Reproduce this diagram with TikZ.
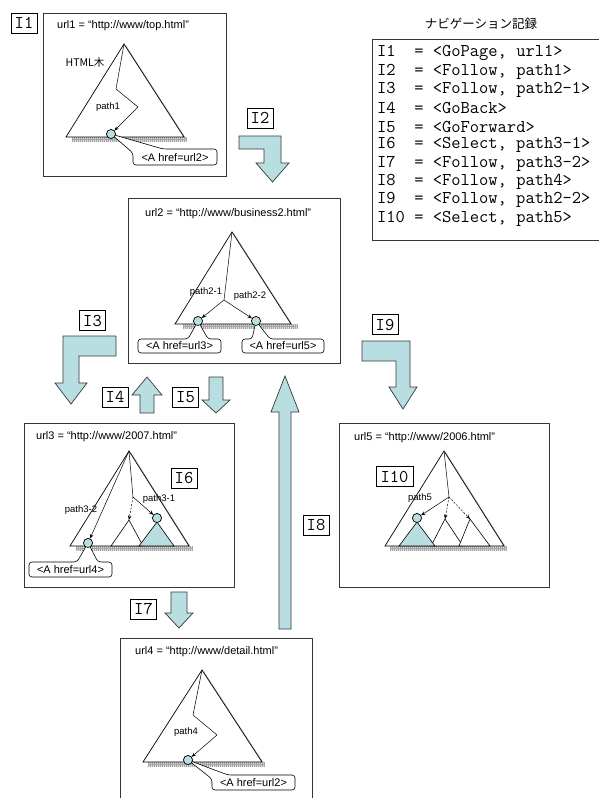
\documentclass[tikz,border=0pt]{standalone}
\usepackage{fontspec}
\setmainfont{Liberation Sans}
\newfontfamily\jpf{Noto Sans CJK JP}
\usetikzlibrary{arrows.meta}
\definecolor{cyanfill}{RGB}{185,222,225}
\definecolor{bord}{RGB}{55,55,55}
\tikzset{
 frame/.style={draw=bord, line width=0.8pt, fill=white},
 ilabel/.style={draw=black, line width=0.6pt, fill=white, font=\ttfamily\fontsize{18}{18}\selectfont, inner sep=0pt, minimum width=26pt, minimum height=20pt},
 urltext/.style={font=\fontsize{11}{12}\selectfont, anchor=west, inner sep=0pt},
 pathtext/.style={font=\fontsize{9.5}{10}\selectfont, inner sep=0pt},
 tree/.style={draw=black, line width=0.7pt, fill=white},
 treeshadow/.style={draw=gray!55, line width=1pt},
 subtree/.style={draw=black, line width=0.6pt, fill=white},
 filledtree/.style={draw=black, line width=0.6pt, fill=cyanfill},
 leaf/.style={circle, draw=black, line width=0.6pt, fill=cyanfill, minimum size=9pt, inner sep=0pt},
 trail/.style={draw=black, line width=0.5pt},
 trailarr/.style={trail, -{Stealth[length=4.5pt,width=3.5pt]}},
 dasharr/.style={trailarr, dash pattern=on 2pt off 1.5pt},
 callout/.style={draw=black, line width=0.6pt, fill=white, rounded corners=3pt},
 calltext/.style={font=\fontsize{11}{12}\selectfont, inner sep=0pt},
 bigarrow/.style={draw=bord, line width=0.7pt, fill=cyanfill, line join=miter},
 navline/.style={font=\ttfamily\fontsize{18}{18}\selectfont, anchor=west, inner sep=0pt},
}
\newcommand\hatchband[3]{%
  \fill[gray!28] (#1,#3) rectangle (#2,#3+5);
  \pgfmathtruncatemacro\hn{(#2-#1)/2}
  \foreach \k in {0,...,\hn} \draw[gray!70, line width=0.35pt] (#1+2*\k,#3) -- (#1+2*\k,#3+5);
  \draw[gray!70, line width=0.35pt] (#1,#3+2.5) -- (#2,#3+2.5);
}
\begin{document}
\begin{tikzpicture}[x=1pt,y=-1pt]
\useasboundingbox (0,0) rectangle (599,798);
\clip (0,0) rectangle (599,798);

% ---------------- Box 1 ----------------
\draw[frame] (43,13) rectangle (226,176);
\node[ilabel] (i1) at (24,23) {I1};
\node[urltext] (u1) at (57,26) {url1 = “http://www/top.html”};
\coordinate (t1a) at (124,44); \coordinate (t1l) at (66,137); \coordinate (t1r) at (184,137);
\hatchband{72}{187}{137}
\draw[treeshadow] ([xshift=1.5pt,yshift=-1.5pt]t1a) -- ([xshift=1.5pt,yshift=-1.5pt]t1r);
\draw[tree] (t1a) -- (t1l) -- (t1r) -- cycle;
\node[font=\jpf\fontsize{10.5}{12}\selectfont, inner sep=0pt] (h1) at (85,63) {HTML木};
\coordinate (p1a) at (116,89); \coordinate (p1b) at (138,107);
\node[leaf] (c1) at (111,134) {};
\draw[trail] (t1a) -- (p1a) -- (p1b);
\draw[trailarr] (p1b) -- (c1);
\node[pathtext] (l1) at (108,107) {path1};
\coordinate (k1a) at (133,153); \coordinate (k1b) at (163,149);
\draw[callout] (c1.center) -- (k1a) -- (133,165) -- (217,165) -- (217,149) -- (k1b) -- cycle;
\node[leaf] at (c1) {};
\node[calltext] (a1) at (175,157.5) {<A href=url2>};

% ---------------- Navigation record ----------------
\node[font=\jpf\fontsize{12.5}{14}\selectfont, inner sep=0pt] (navt) at (481,24) {ナビゲーション記録};
\draw[frame] (372,39) rectangle (605,240);
\node[navline] (n1) at (377,53.0) {I1~~=~<GoPage,~url1>};
\node[navline] (n2) at (377,71.4) {I2~~=~<Follow,~path1>};
\node[navline] (n3) at (377,89.8) {I3~~=~<Follow,~path2-1>};
\node[navline] (n4) at (377,108.2) {I4~~=~<GoBack>};
\node[navline] (n5) at (377,126.6) {I5~~=~<GoForward>};
\node[navline] (n6) at (377,145.0) {I6~~=~<Select,~path3-1>};
\node[navline] (n7) at (377,163.4) {I7~~=~<Follow,~path3-2>};
\node[navline] (n8) at (377,181.8) {I8~~=~<Follow,~path4>};
\node[navline] (n9) at (377,200.2) {I9~~=~<Follow,~path2-2>};
\node[navline] (n10) at (377,218.6) {I10~=~<Select,~path5>};

% ---------------- I2 arrow ----------------
\node[ilabel] (i2) at (260,118) {I2};
\draw[bigarrow] (239,136) -- (281,136) -- (281,163) -- (289,163) -- (272.5,182) -- (256,163) -- (264,163) -- (264,149) -- (239,149) -- cycle;

% ---------------- Box 2 ----------------
\draw[frame] (128,198) rectangle (340,363);
\node[urltext] (u2) at (145,214) {url2 = “http://www/business2.html”};
\coordinate (t2a) at (232,232); \coordinate (t2l) at (175,324); \coordinate (t2r) at (291,324);
\hatchband{183}{298}{324}
\draw[treeshadow] ([xshift=1.5pt,yshift=-1.5pt]t2a) -- ([xshift=1.5pt,yshift=-1.5pt]t2r);
\draw[tree] (t2a) -- (t2l) -- (t2r) -- cycle;
\coordinate (m2) at (224,300);
\node[leaf] (c2a) at (198,321) {};
\node[leaf] (c2b) at (256,321) {};
\draw[trail] (t2a) -- (m2);
\draw[trailarr] (m2) -- (c2a);
\draw[trailarr] (m2) -- (c2b);
\node[pathtext] (l2a) at (206,292) {path2-1};
\node[pathtext] (l2b) at (250,296) {path2-2};
\coordinate (k2a) at (188,339); \coordinate (k2b) at (208,339);
\draw[callout] (c2a.center) -- (k2b) -- (221,339) -- (221,353) -- (138,353) -- (138,339) -- (k2a) -- cycle;
\node[leaf] at (c2a) {};
\node[calltext] (a2a) at (179.5,346) {<A href=url3>};
\coordinate (k2c) at (252,339); \coordinate (k2d) at (270,339);
\draw[callout] (c2b.center) -- (k2d) -- (324,339) -- (324,353) -- (242,353) -- (242,339) -- (k2c) -- cycle;
\node[leaf] at (c2b) {};
\node[calltext] (a2b) at (283,346) {<A href=url5>};

% ---------------- I3, I4, I5, I9 arrows ----------------
\node[ilabel] (i3) at (92.5,320.5) {I3};
\draw[bigarrow] (116,336) -- (116,356) -- (79,356) -- (79,383) -- (87,383) -- (71,404) -- (55,383) -- (63,383) -- (63,336) -- cycle;
\node[ilabel] (i4) at (115,397) {I4};
\draw[bigarrow] (140,413) -- (154,413) -- (154,395) -- (162,395) -- (147,377) -- (132,395) -- (140,395) -- cycle;
\node[ilabel] (i5) at (185.5,397) {I5};
\draw[bigarrow] (209,377) -- (223,377) -- (223,400) -- (230,400) -- (216,413) -- (202,400) -- (209,400) -- cycle;
\node[ilabel] (i9) at (385,324.5) {I9};
\draw[bigarrow] (362,341) -- (410,341) -- (410,387) -- (417,387) -- (403,409) -- (389,387) -- (396,387) -- (396,361) -- (362,361) -- cycle;

% ---------------- Box 3 ----------------
\draw[frame] (24,423) rectangle (234,587);
\node[urltext] (u3) at (36,437) {url3 = “http://www/2007.html”};
\coordinate (t3a) at (129,451); \coordinate (t3l) at (70,546); \coordinate (t3r) at (189,546);
\hatchband{76}{193}{546}
\draw[treeshadow] ([xshift=1.5pt,yshift=-1.5pt]t3a) -- ([xshift=1.5pt,yshift=-1.5pt]t3r);
\draw[tree] (t3a) -- (t3l) -- (t3r) -- cycle;
\coordinate (s3a) at (129,520);
\draw[subtree] (s3a) -- (111,546) -- (143,546) -- cycle;
\node[leaf] (c3b) at (157,518) {};
\draw[filledtree] (157,522) -- (139,546) -- (174,546) -- cycle;
\node[leaf] at (c3b) {};
\node[leaf] (c3a) at (88,543) {};
\coordinate (m3) at (133,497);
\draw[trailarr] (t3a) -- (c3a);
\draw[trail] (t3a) -- (m3);
\draw[dasharr] (m3) -- (s3a);
\draw[trailarr] (m3) -- (c3b);
\node[pathtext] (l3a) at (159,499) {path3-1};
\node[pathtext] (l3b) at (81,510) {path3-2};
\node[ilabel] (i6) at (184,478) {I6};
\coordinate (k3a) at (77,562); \coordinate (k3b) at (98,562);
\draw[callout] (c3a.center) -- (k3b) -- (112,562) -- (112,577) -- (29,577) -- (29,562) -- (k3a) -- cycle;
\node[leaf] at (c3a) {};
\node[calltext] (a3) at (70.5,569.5) {<A href=url4>};

% ---------------- I8 arrow ----------------
\draw[bigarrow] (279,629) -- (291,629) -- (291,412) -- (299,412) -- (285,376) -- (271,412) -- (279,412) -- cycle;
\node[ilabel] (i8) at (316,525) {I8};

% ---------------- Box 5 ----------------
\draw[frame] (339,423) rectangle (549,587);
\node[urltext] (u5) at (354,438) {url5 = “http://www/2006.html”};
\coordinate (t5a) at (444,451); \coordinate (t5l) at (385,546); \coordinate (t5r) at (504,546);
\hatchband{390}{507}{546}
\draw[treeshadow] ([xshift=1.5pt,yshift=-1.5pt]t5a) -- ([xshift=1.5pt,yshift=-1.5pt]t5r);
\draw[tree] (t5a) -- (t5l) -- (t5r) -- cycle;
\coordinate (s5b) at (445,519); \coordinate (s5c) at (470,519);
\draw[subtree] (s5b) -- (431,546) -- (463,546) -- cycle;
\draw[subtree] (s5c) -- (459,546) -- (490,546) -- cycle;
\node[leaf] (c5) at (417,518) {};
\draw[filledtree] (417,522) -- (399,546) -- (435,546) -- cycle;
\node[leaf] at (c5) {};
\coordinate (m5) at (449,497);
\draw[trail] (t5a) -- (m5);
\draw[trailarr] (m5) -- (c5);
\draw[dasharr] (m5) -- (s5b);
\draw[dasharr] (m5) -- (s5c);
\node[pathtext] (l5) at (420,498) {path5};
\node[ilabel, minimum width=37pt] (i10) at (394.5,476.5) {I10};

% ---------------- I7 arrow ----------------
\node[ilabel] (i7) at (143.5,609) {I7};
\draw[bigarrow] (171,592) -- (187,592) -- (187,613) -- (193,613) -- (179,628) -- (165,613) -- (171,613) -- cycle;

% ---------------- Box 4 ----------------
\draw[frame] (120,638) rectangle (312,810);
\node[urltext] (u4) at (135,652) {url4 = “http://www/detail.html”};
\coordinate (t4a) at (202,670); \coordinate (t4l) at (143,762); \coordinate (t4r) at (262,762);
\hatchband{148}{265}{762}
\draw[treeshadow] ([xshift=1.5pt,yshift=-1.5pt]t4a) -- ([xshift=1.5pt,yshift=-1.5pt]t4r);
\draw[tree] (t4a) -- (t4l) -- (t4r) -- cycle;
\coordinate (p4a) at (193,715); \coordinate (p4b) at (217,735);
\node[leaf] (c4) at (188,760) {};
\draw[trail] (t4a) -- (p4a) -- (p4b);
\draw[trailarr] (p4b) -- (c4);
\node[pathtext] (l4) at (186,732) {path4};
\coordinate (k4a) at (212,779); \coordinate (k4b) at (228,775);
\draw[callout] (c4.center) -- (k4a) -- (212,790) -- (295,790) -- (295,775) -- (k4b) -- cycle;
\node[leaf] at (c4) {};
\node[calltext] (a4) at (253.5,782.5) {<A href=url2>};
\end{tikzpicture}
\end{document}
